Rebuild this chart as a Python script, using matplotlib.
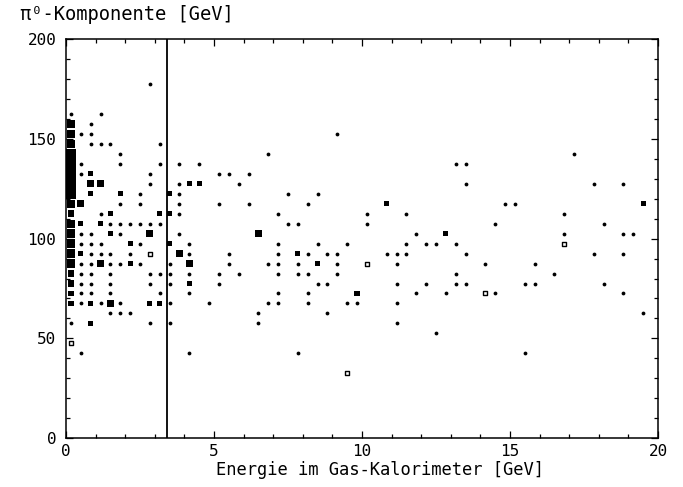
import matplotlib
matplotlib.use("Agg")
import matplotlib.pyplot as plt
from matplotlib.ticker import MultipleLocator

# events per box (1 = single event, bigger boxes = more events)
# rows go from high to low pi0 energy
e_gas = [
    2.83,                                                   # 177.5
    0.17, 1.17,                                             # 162.5
    0.17, 0.83,                                             # 157.5
    0.17, 0.5, 0.83, 9.17,                                  # 152.5
    0.17, 0.83, 1.17, 1.5, 3.17,                            # 147.5
    0.17, 1.83, 6.83, 17.17,                                # 142.5
    0.17, 0.5, 1.83, 3.17, 3.83, 4.5, 13.17, 13.5,          # 137.5
    0.17, 0.5, 0.83, 2.83, 5.17, 5.5, 6.17,                 # 132.5
    0.17, 0.83, 1.17, 2.83, 3.83, 4.17, 4.5, 5.83, 13.5,
    17.83, 18.83,                                           # 127.5
    0.17, 0.83, 1.83, 2.5, 3.5, 3.83, 7.5, 8.5,             # 122.5
    0.17, 0.5, 1.83, 2.5, 3.83, 5.17, 6.17, 8.17, 10.83,
    14.83, 15.17, 19.5,                                     # 117.5
    0.17, 1.17, 1.5, 3.17, 3.5, 3.83, 7.17, 10.17, 11.5,
    16.83,                                                  # 112.5
    0.17, 0.5, 1.17, 1.5, 1.83, 2.17, 2.5, 2.83, 3.17, 7.5,
    7.83, 10.17, 14.5, 18.17,                               # 107.5
    0.17, 0.5, 0.83, 1.5, 1.83, 2.83, 3.83, 6.5, 11.83,
    12.83, 16.83, 18.83, 19.17,                             # 102.5
    0.17, 0.5, 0.83, 1.17, 2.17, 2.5, 3.5, 4.17, 7.17, 8.5,
    9.5, 11.5, 12.17, 12.5, 13.17,                          # 97.5
    0.17, 0.5, 0.83, 1.17, 1.5, 2.17, 3.83, 4.17, 5.5, 7.17,
    7.83, 8.17, 8.83, 9.17, 10.83, 11.17, 11.5, 13.5, 17.83,
    18.83,                                                  # 92.5
    0.17, 0.5, 0.83, 1.17, 1.5, 1.83, 2.17, 2.5, 3.5, 4.17,
    5.5, 6.83, 7.17, 7.83, 8.5, 9.17, 11.17, 14.17, 15.83,  # 87.5
    0.17, 0.5, 0.83, 1.5, 2.83, 3.17, 3.5, 4.17, 5.17, 5.83,
    7.17, 7.83, 8.17, 9.17, 13.17, 16.5,                    # 82.5
    0.17, 0.5, 0.83, 1.5, 2.83, 3.5, 4.17, 5.17, 8.5, 8.83,
    11.17, 12.17, 13.17, 13.5, 15.5, 15.83, 18.17,          # 77.5
    0.17, 0.5, 0.83, 1.5, 3.17, 4.17, 7.17, 8.17, 9.83,
    11.83, 12.83, 14.5, 18.83,                              # 72.5
    0.17, 0.5, 0.83, 1.17, 1.5, 1.83, 2.83, 3.17, 3.5, 4.83,
    6.83, 7.17, 8.17, 9.5, 9.83, 11.17,                     # 67.5
    1.5, 1.83, 2.17, 6.5, 8.83, 19.5,                       # 62.5
    0.17, 0.83, 2.83, 3.5, 6.5, 11.17,                      # 57.5
    12.5,                                                   # 52.5
    0.5, 4.17, 7.83, 15.5,                                  # 42.5
]
e_pi0 = (
    [177.5] * 1 + [162.5] * 2 + [157.5] * 2 + [152.5] * 4
    + [147.5] * 5 + [142.5] * 4 + [137.5] * 8 + [132.5] * 7
    + [127.5] * 11 + [122.5] * 8 + [117.5] * 12 + [112.5] * 10
    + [107.5] * 14 + [102.5] * 13 + [97.5] * 15 + [92.5] * 20
    + [87.5] * 19 + [82.5] * 16 + [77.5] * 17 + [72.5] * 13
    + [67.5] * 16 + [62.5] * 6 + [57.5] * 6 + [52.5] * 1
    + [42.5] * 4
)
n_evt = [
    1,
    1, 1,
    4, 1,
    4, 1, 1, 1,
    4, 1, 1, 1, 1,
    5, 1, 1, 1,
    5, 1, 1, 1, 1, 1, 1, 1,
    5, 1, 2, 1, 1, 1, 1,
    5, 3, 3, 1, 1, 2, 2, 1, 1, 1, 1,
    5, 2, 2, 1, 2, 1, 1, 1,
    4, 3, 1, 1, 1, 1, 1, 1, 2, 1, 1, 2,
    3, 1, 2, 2, 2, 1, 1, 1, 1, 1,
    4, 2, 2, 1, 1, 1, 1, 1, 1, 1, 1, 1, 1, 1,
    4, 1, 1, 2, 1, 3, 1, 3, 1, 2, 1, 1, 1,
    4, 1, 1, 1, 2, 1, 2, 1, 1, 1, 1, 1, 1, 1, 1,
    4, 2, 1, 1, 1, 1, 3, 1, 1, 1, 2, 1, 1, 1, 1, 1, 1, 1, 1, 1,
    4, 1, 1, 3, 1, 1, 2, 1, 1, 3, 1, 1, 1, 1, 2, 1, 1, 1, 1,
    3, 1, 1, 1, 1, 1, 1, 1, 1, 1, 1, 1, 1, 1, 1, 1,
    3, 1, 1, 1, 1, 1, 2, 1, 1, 1, 1, 1, 1, 1, 1, 1, 1,
    2, 1, 1, 1, 1, 1, 1, 1, 2, 1, 1, 1, 1,
    2, 1, 2, 1, 3, 1, 2, 2, 1, 1, 1, 1, 1, 1, 1, 1,
    1, 1, 1, 1, 1, 1,
    1, 2, 1, 1, 1, 1,
    1,
    1, 1, 1, 1,
]

# boxes printed hollow in the original
open_gas = [2.83, 10.17, 16.83, 14.17, 0.17, 9.5]
open_pi0 = [92.5, 87.5, 97.5, 72.5, 47.5, 32.5]

cut_energy = 3.4

box_px = {1: 3.8, 2: 5.2, 3: 6.8, 4: 8.4, 5: 10.6}
mono = ["DejaVu Sans Mono", "DejaVu Sans"]


def pt2(px):
    # marker area in points^2 from a side length in pixels (dpi 100)
    return (px * 0.72) ** 2


fig = plt.figure(figsize=(6.83, 4.87), dpi=100)
ax = fig.add_axes([0.0966, 0.1006, 0.8668, 0.8187])

singles = [k for k, n in enumerate(n_evt) if n == 1]
multis = [k for k, n in enumerate(n_evt) if n > 1]

ax.scatter([e_gas[k] for k in singles], [e_pi0[k] for k in singles],
           s=pt2(box_px[1]), marker="o", c="black", linewidths=0)
ax.scatter([e_gas[k] for k in multis], [e_pi0[k] for k in multis],
           s=[pt2(box_px[n_evt[k]]) for k in multis], marker="s",
           c="black", linewidths=0)
ax.scatter(open_gas, open_pi0, s=pt2(4.6), marker="s", facecolors="white",
           edgecolors="black", linewidths=1.0)

ax.axvline(cut_energy, color="black", linewidth=1.3)

ax.set_xlim(0, 20)
ax.set_ylim(0, 200)
ax.xaxis.set_major_locator(MultipleLocator(5))
ax.xaxis.set_minor_locator(MultipleLocator(1))
ax.yaxis.set_major_locator(MultipleLocator(50))
ax.yaxis.set_minor_locator(MultipleLocator(10))
ax.tick_params(which="both", direction="in", top=True, right=True,
               width=0.9, labelsize=11.5, labelfontfamily="DejaVu Sans Mono")
ax.tick_params(which="major", length=5)
ax.tick_params(which="minor", length=3)
ax.tick_params(axis="y", pad=7)
ax.tick_params(axis="x", pad=4)
for sp in ax.spines.values():
    sp.set_linewidth(1.1)

fig.text(0.556, 0.034, "Energie im Gas-Kalorimeter [GeV]", ha="center",
         va="center", fontsize=12.3, family=mono)
fig.text(0.029, 0.971, "\u03c0\u2070-Komponente [GeV]", ha="left",
         va="center", fontsize=13.5, family=mono)

fig.savefig("out.png", dpi=100)
